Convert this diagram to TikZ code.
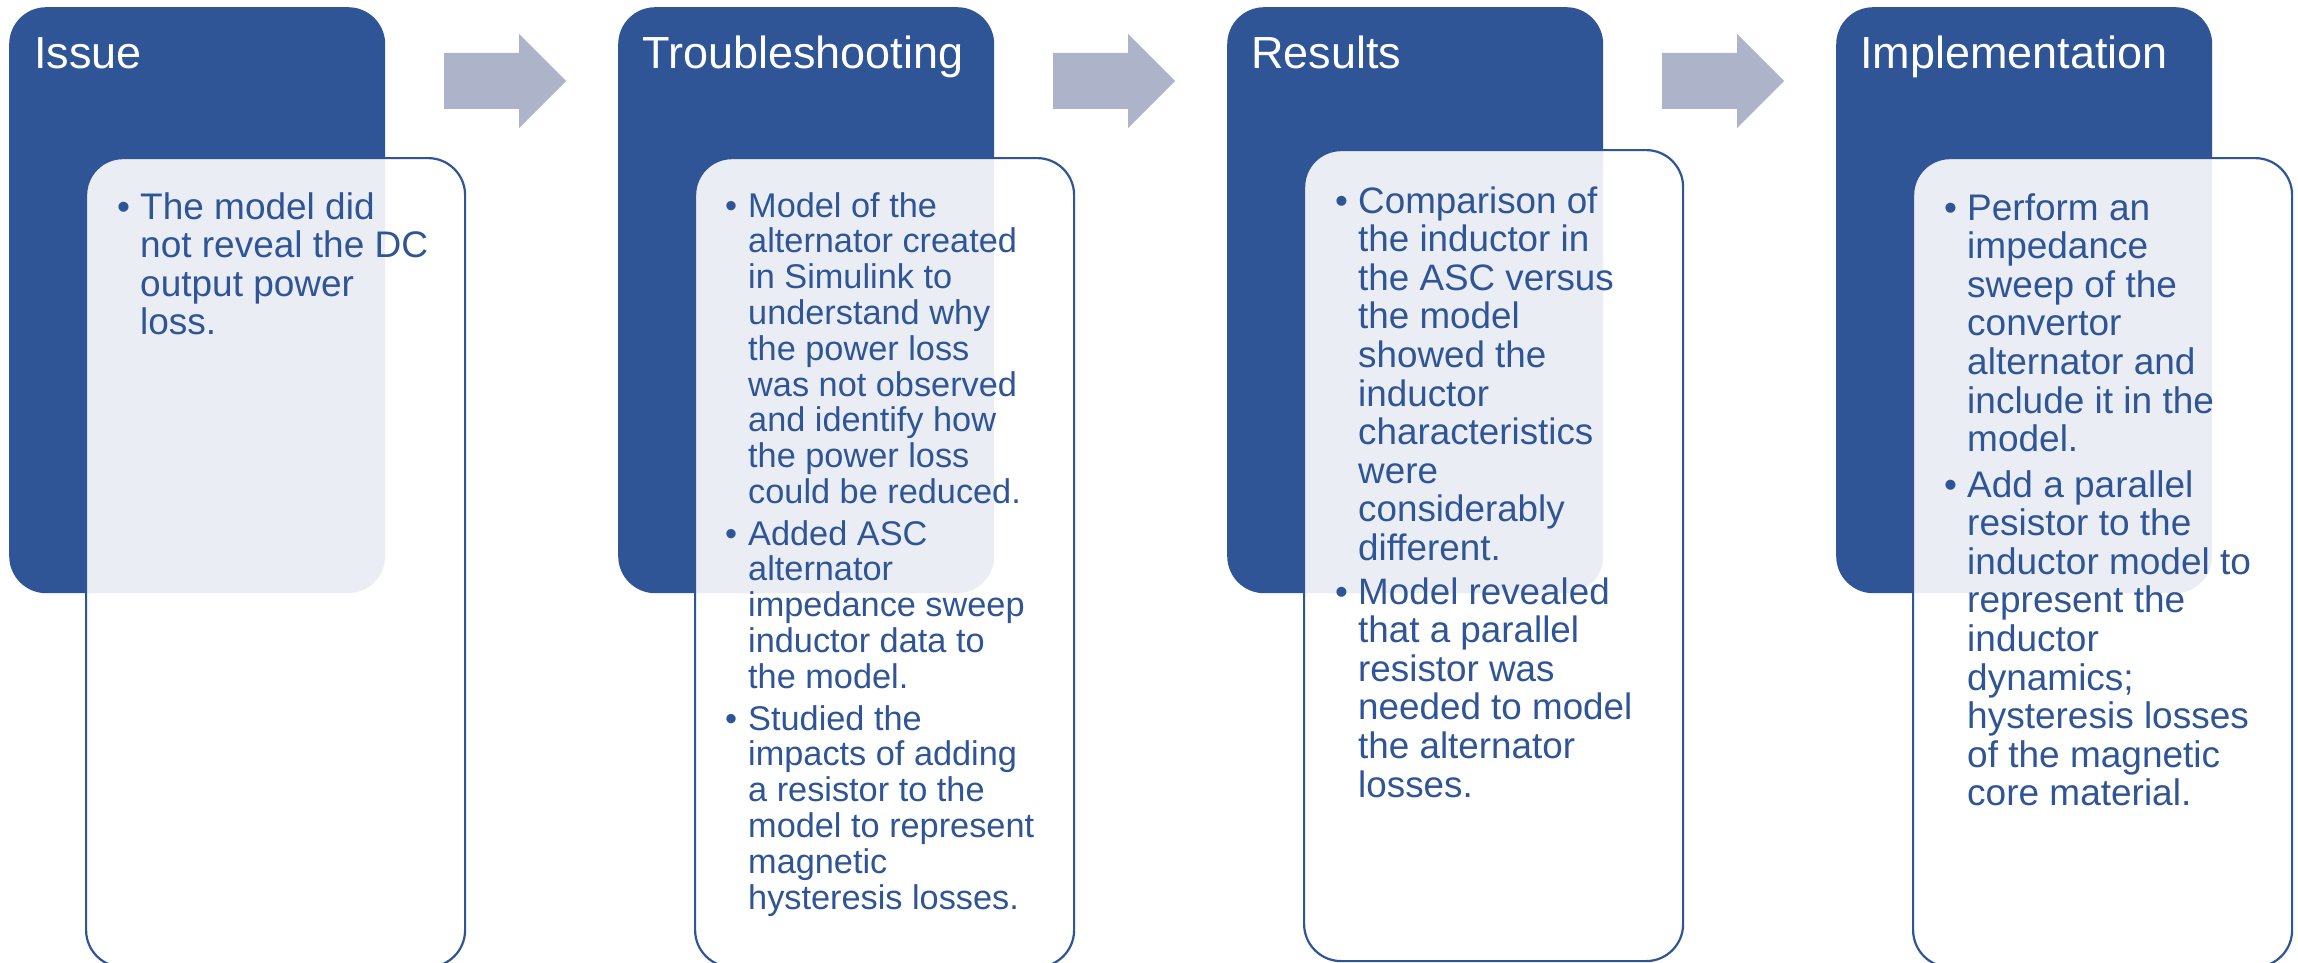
\documentclass[tikz,border=0pt]{standalone}
\usepackage{fontspec}
\setmainfont{Liberation Sans}
\definecolor{boxblue}{HTML}{2F5597}
\definecolor{arrowgray}{HTML}{ADB3C9}
% a column of lines whose baseline is that of its first line
\newcommand\linestack[1]{\vtop{\lineskiplimit=-\maxdimen\lineskip=0pt #1}}
\newcommand\tline[1]{\hbox{#1}}
\begin{document}
\begin{tikzpicture}[x=1pt,y=-1pt,
  darkbox/.style={fill=boxblue, draw=none, rounded corners=37pt, anchor=north west,
    inner sep=0pt, minimum width=376pt, minimum height=586pt},
  panel/.style={fill=white, fill opacity=0.9, draw=boxblue, line width=2.2pt,
    rounded corners=37pt, anchor=north west, inner sep=0pt,
    minimum width=379pt, minimum height=809pt},
  heading/.style={text=white, font=\fontsize{45}{54}\selectfont, anchor=base west, inner sep=0pt},
  bodytext/.style={text=boxblue, font=\fontsize{37}{38.6}\selectfont, anchor=base west, inner sep=0pt},
  smalltext/.style={bodytext, font=\fontsize{34.3}{35.8}\selectfont},
  midtext/.style={bodytext, font=\fontsize{36.8}{38.6}\selectfont},
  blockarrow/.pic={\fill[arrowgray] (0,-28) -- (75,-28) -- (75,-47) -- (122,0)
    -- (75,47) -- (75,28) -- (0,28) -- cycle;}]

\useasboundingbox (0,0) rectangle (2298,963);
\fill[white] (0,0) rectangle (2298,963);

% step headings
\node[darkbox] (d1) at (9,7) {};
\node[darkbox] (d2) at (618,7) {};
\node[darkbox] (d3) at (1227,7) {};
\node[darkbox] (d4) at (1836,7) {};

\node[heading] (h1) at (34,69) {Issue};
\node[heading] (h2) at (642,69) {Troubleshooting};
\node[heading] (h3) at (1251,69) {Results};
\node[heading] (h4) at (1860,69) {Implementation};

% arrows between the steps
\pic (a1) at (444,81) {blockarrow};
\pic (a2) at (1053,81) {blockarrow};
\pic (a3) at (1662,81) {blockarrow};

% detail panels
\node[panel] (p1) at (85,157) {};
\node[panel] (p2) at (694,157) {};
\node[panel, minimum height=811pt] (p3) at (1303,149) {};
\node[panel] (p4) at (1912,157) {};

% Issue
\node[bodytext] (b1a) at (117,219) {•};
\node[bodytext] (t1a) at (140,219) {\linestack{\tline{The model did}\tline{not reveal the DC}\tline{output power}\tline{loss.}}};

% Troubleshooting
\node[smalltext] (b2a) at (725,217) {•};
\node[smalltext] (t2a) at (748,217) {\linestack{\tline{Model of the}\tline{alternator created}\tline{in Simulink to}\tline{understand why}\tline{the power loss}\tline{was not observed}\tline{and identify how}\tline{the power loss}\tline{could be reduced.}}};
\node[smalltext] (b2b) at (725,545) {•};
\node[smalltext] (t2b) at (748,545) {\linestack{\tline{Added ASC}\tline{alternator}\tline{impedance sweep}\tline{inductor data to}\tline{the model.}}};
\node[smalltext] (b2c) at (725,730) {•};
\node[smalltext] (t2c) at (748,730) {\linestack{\tline{Studied the}\tline{impacts of adding}\tline{a resistor to the}\tline{model to represent}\tline{magnetic}\tline{hysteresis losses.}}};

% Results
\node[midtext] (b3a) at (1335,213) {•};
\node[midtext] (t3a) at (1358,213) {\linestack{\tline{Comparison of}\tline{the inductor in}\tline{the ASC versus}\tline{the model}\tline{showed the}\tline{inductor}\tline{characteristics}\tline{were}\tline{considerably}\tline{different.}}};
\node[midtext] (b3b) at (1335,604) {•};
\node[midtext] (t3b) at (1358,604) {\linestack{\tline{Model revealed}\tline{that a parallel}\tline{resistor was}\tline{needed to model}\tline{the alternator}\tline{losses.}}};

% Implementation
\node[bodytext] (b4a) at (1944,220) {•};
\node[bodytext] (t4a) at (1967,220) {\linestack{\tline{Perform an}\tline{impedance}\tline{sweep of the}\tline{convertor}\tline{alternator and}\tline{include it in the}\tline{model.}}};
\node[bodytext] (b4b) at (1944,497) {•};
\node[bodytext] (t4b) at (1967,497) {\linestack{\tline{Add a parallel}\tline{resistor to the}\tline{inductor model to}\tline{represent the}\tline{inductor}\tline{dynamics;}\tline{hysteresis losses}\tline{of the magnetic}\tline{core material.}}};
\end{tikzpicture}
\end{document}
